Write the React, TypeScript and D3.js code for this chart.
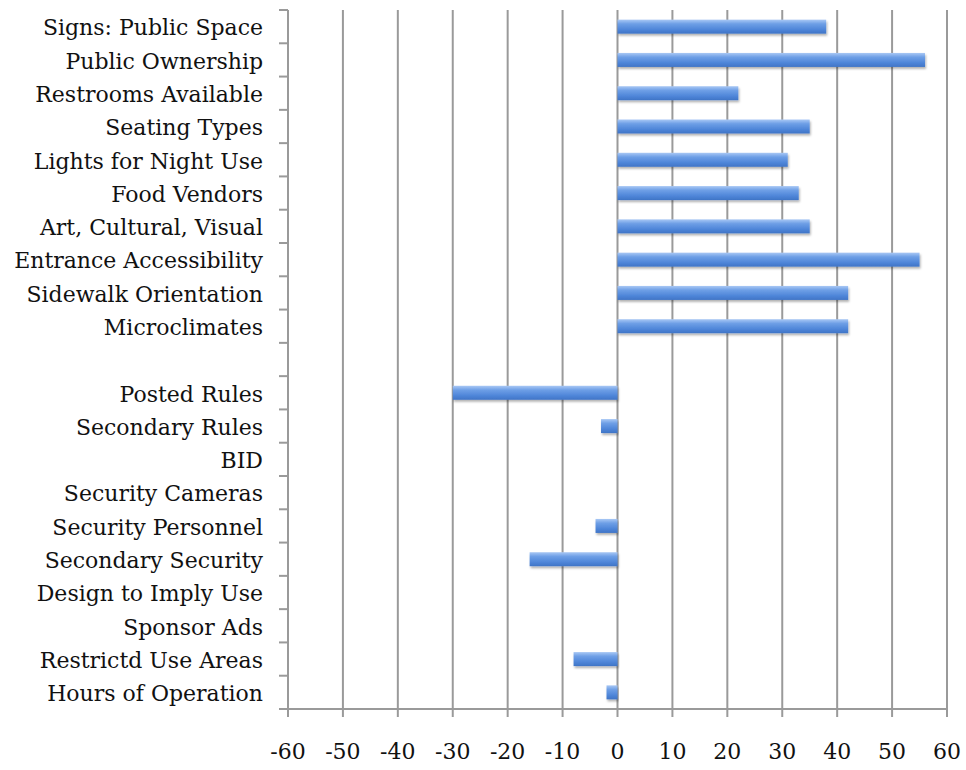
import React from "react";
import * as d3 from "d3";

const categories = [
  "Signs: Public Space",
  "Public Ownership",
  "Restrooms Available",
  "Seating Types",
  "Lights for Night Use",
  "Food Vendors",
  "Art, Cultural, Visual",
  "Entrance Accessibility",
  "Sidewalk Orientation",
  "Microclimates",
  "",
  "Posted Rules",
  "Secondary Rules",
  "BID",
  "Security Cameras",
  "Security Personnel",
  "Secondary Security",
  "Design to Imply Use",
  "Sponsor Ads",
  "Restrictd Use Areas",
  "Hours of Operation",
];

const values = [38, 56, 22, 35, 31, 33, 35, 55, 42, 42, 0, -30, -3, 0, 0, -4, -16, 0, 0, -8, -2];

const xTicks = [-60, -50, -40, -30, -20, -10, 0, 10, 20, 30, 40, 50, 60];

export default function App() {
  const width = 966;
  const height = 770;
  const left = 288;
  const right = 947;
  const top = 10;
  const bottom = 709;
  const font = "'DejaVu Serif', serif";
  const axisColor = "#9a9a9a";

  const x = d3.scaleLinear().domain([-60, 60]).range([left, right]);
  const y = d3.scaleBand<number>().domain(d3.range(categories.length)).range([top, bottom]);
  const barH = 14;

  const boundaries = d3.range(categories.length + 1).map(i => top + i * y.step());

  return (
    <svg width={width} height={height} style={{ position: "absolute", left: 0, top: 0, background: "#fff" }}>
      <defs>
        <linearGradient id="barGrad" x1="0" y1="0" x2="0" y2="1">
          <stop offset="0%" stopColor="#a9c8f5" />
          <stop offset="30%" stopColor="#6e9fe6" />
          <stop offset="70%" stopColor="#4f86d9" />
          <stop offset="100%" stopColor="#3f74c6" />
        </linearGradient>
        <filter id="shadow" x="-5%" y="-30%" width="110%" height="180%">
          <feDropShadow dx="1" dy="2" stdDeviation="1.2" floodColor="#000" floodOpacity="0.3" />
        </filter>
      </defs>

      {/* vertical grid */}
      {xTicks.map(t => (
        <line key={"g" + t} x1={x(t)} x2={x(t)} y1={top} y2={bottom + 8} stroke={axisColor} strokeWidth={2} />
      ))}

      {/* bottom axis */}
      <line x1={left} x2={right} y1={bottom} y2={bottom} stroke={axisColor} strokeWidth={2} />
      {xTicks.map(t => (
        <text key={"t" + t} x={x(t)} y={759} textAnchor="middle" fontFamily={font} fontSize={22} fill="#111">
          {t}
        </text>
      ))}

      {/* left axis */}
      <line x1={left} x2={left} y1={top} y2={bottom + 8} stroke={axisColor} strokeWidth={2} />
      {boundaries.map((b, i) => (
        <line key={"yt" + i} x1={left - 9} x2={left} y1={b} y2={b} stroke={axisColor} strokeWidth={2} />
      ))}

      {/* bars */}
      {values.map((v, i) =>
        v === 0 ? null : (
          <rect
            key={"b" + i}
            x={x(Math.min(0, v))}
            y={(y(i) as number) + y.bandwidth() / 2 - barH / 2}
            width={Math.abs(x(v) - x(0))}
            height={barH}
            fill="url(#barGrad)"
            filter="url(#shadow)"
          />
        )
      )}

      {/* category labels */}
      {categories.map((c, i) => (
        <text
          key={"c" + i}
          x={263}
          y={(y(i) as number) + y.bandwidth() / 2}
          dy="0.4em"
          textAnchor="end"
          fontFamily={font}
          fontSize={22}
          fill="#111"
        >
          {c}
        </text>
      ))}
    </svg>
  );
}
